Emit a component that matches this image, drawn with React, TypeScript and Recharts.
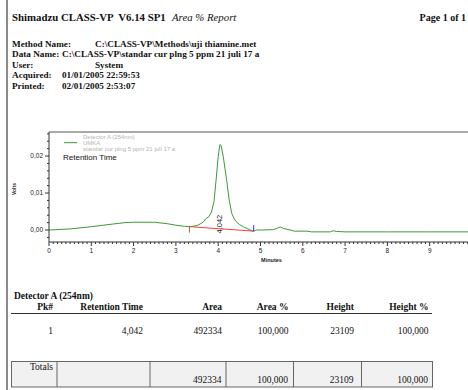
import { ComposedChart, Line, ReferenceLine, Scatter, XAxis, YAxis } from "recharts";

// chromatogram trace (minutes / volts)
const TIME = [
  0, 0.5, 1.0, 1.5, 1.8, 2.0, 2.5, 2.8, 3.0, 3.2,
  3.33, 3.5, 3.6, 3.65, 3.72, 3.78, 3.84, 3.9, 3.95, 4.0,
  4.04, 4.07, 4.12, 4.2, 4.26, 4.32, 4.38, 4.43, 4.5, 4.59,
  4.7, 4.79, 4.85, 4.9, 5.0, 5.3, 5.4, 5.47, 5.55, 5.7,
  5.8, 6.1, 6.2, 6.65, 6.72, 6.8, 7.0, 8.0, 9.0, 10.0,
];
const VOLTS = [
  0, 0.0003, 0.0009, 0.0016, 0.002, 0.0021, 0.0021, 0.0017, 0.0013, 0.001,
  0.0009, 0.0012, 0.0018, 0.0022, 0.0032, 0.0036, 0.0048, 0.0077, 0.0135, 0.0198,
  0.0231, 0.0228, 0.0198, 0.0135, 0.0081, 0.0045, 0.003, 0.0022, 0.0015, 0.0009,
  0.0003, -0.0002, -0.0003, 0, 0, 0.0001, 0.0005, 0.0008, 0.0004, 0,
  -0.0003, -0.0003, -0.0005, -0.0005, -0.0002, -0.0004, -0.0005, -0.0005, -0.0005, -0.0005,
];

// integration baseline + start/end markers
const BASE_TIME = [3.32, 4.84];
const BASE_VOLTS = [0.0009, -0.0003];
const START_MARK = [0.0009, -0.0007];
const END_MARK = [-0.0003, 0.0013];

const PEAK_RT = 4.042;
const PEAK_LABEL_Y = 0.0016;

const X_DOMAIN = [0, 10];
const Y_DOMAIN = [-0.00324, 0.0265];
const X_TICKS = Array.from({ length: 101 }, (_, i) => i / 10);
const Y_TICKS = Array.from({ length: 15 }, (_, i) => Math.round((i * 2 - 2) * 10) / 10000);

// table
const COLUMNS = ["Pk#", "Retention Time", "Area", "Area %", "Height", "Height %"];
const ROW = ["1", "4,042", "492334", "100,000", "23109", "100,000"];
const TOTALS = ["492334", "100,000", "23109", "100,000"];

const trace = TIME.map((t, i) => ({ t, v: VOLTS[i] }));
const baseline = BASE_TIME.map((t, i) => ({ t, v: BASE_VOLTS[i] }));
const startMark = START_MARK.map((v) => ({ t: BASE_TIME[0], v }));
const endMark = END_MARK.map((v) => ({ t: BASE_TIME[1], v }));

const SANS = "'Liberation Sans', Arial, sans-serif";
const SERIF = "'Liberation Serif', 'Times New Roman', serif";
const GREEN = "#3a9a3a";

const isMajor = (v: number, step: number) => Math.abs(v / step - Math.round(v / step)) < 1e-6;

function XTick({ x, y, payload }: any) {
  const major = isMajor(payload.value, 1);
  return (
    <g>
      <line x1={x} x2={x} y1={y} y2={y + (major ? 4 : 2)} stroke="#333" />
      {/* the 10 min label falls past the page edge in the report */}
      {major && payload.value < 10 && (
        <text x={x} y={y + 10.5} textAnchor="middle" fontSize={6.5} fontFamily={SANS} fill="#222">
          {payload.value}
        </text>
      )}
    </g>
  );
}

function YTick({ x, y, payload }: any) {
  const major = isMajor(payload.value, 0.01);
  return (
    <g>
      <line x1={x} x2={x - (major ? 4 : 2)} y1={y} y2={y} stroke="#333" />
      {major && (
        <text x={x - 6} y={y + 2.2} textAnchor="end" fontSize={6.5} fontFamily={SANS} fill="#222">
          {payload.value.toFixed(2).replace(".", ",")}
        </text>
      )}
    </g>
  );
}

function PeakLabel({ cx, cy }: any) {
  return (
    <text
      x={cx}
      y={cy}
      transform={`rotate(-90 ${cx} ${cy})`}
      textAnchor="middle"
      dominantBaseline="central"
      fontSize={7.5}
      fontFamily={SANS}
      fill="#222"
    >
      {PEAK_RT.toFixed(3).replace(".", ",")}
    </text>
  );
}

function Chromatogram() {
  return (
    <ComposedChart width={472} height={150} margin={{ top: 12, right: 0, bottom: 0, left: 0 }}>
      <XAxis
        dataKey="t"
        type="number"
        domain={X_DOMAIN}
        allowDataOverflow
        ticks={X_TICKS}
        interval={0}
        tick={<XTick />}
        tickSize={0}
        tickMargin={0}
        tickLine={false}
        axisLine={{ stroke: "#333" }}
        height={28}
      />
      <YAxis
        dataKey="v"
        type="number"
        domain={Y_DOMAIN}
        allowDataOverflow
        ticks={Y_TICKS}
        interval={0}
        tick={<YTick />}
        tickSize={0}
        tickMargin={0}
        tickLine={false}
        axisLine={{ stroke: "#333" }}
        width={49}
      />
      <ReferenceLine y={Y_DOMAIN[1]} stroke="#555" />
      <Line data={baseline} dataKey="v" stroke="#ff3b3b" strokeWidth={1} dot={false} isAnimationActive={false} />
      <Line data={trace} dataKey="v" stroke={GREEN} strokeWidth={1} dot={false} isAnimationActive={false} />
      <Line data={startMark} dataKey="v" stroke="#ff3b3b" strokeWidth={1} dot={false} isAnimationActive={false} />
      <Line data={endMark} dataKey="v" stroke="#2a2ae0" strokeWidth={1} dot={false} isAnimationActive={false} />
      <Scatter data={[{ t: PEAK_RT, v: PEAK_LABEL_Y }]} dataKey="v" shape={<PeakLabel />} isAnimationActive={false} />
    </ComposedChart>
  );
}

const rightEdges = [53, 143, 222, 288.5, 354, 428.5];
const dividers = [57, 150, 226, 293.5, 361.5];

export default function App() {
  return (
    <div style={{ position: "fixed", left: 0, top: 0, width: 468, height: 390, overflow: "hidden", background: "#fff" }}>
      <div style={{ position: "absolute", left: 0, top: 120 }}>
        <Chromatogram />
      </div>
      <svg width={468} height={390} style={{ position: "absolute", left: 0, top: 0, pointerEvents: "none" }}>
        <rect x={6} y={0} width={2} height={390} fill="#8a8a8a" />

        <g fontFamily={SERIF} fill="#111">
          <text x={12} y={20.5} fontSize={10.8} fontWeight="bold" style={{ whiteSpace: "pre" }}>
            Shimadzu CLASS-VP  V6.14 SP1
          </text>
          <text x={172} y={20.5} fontSize={10.8} fontStyle="italic">
            Area % Report
          </text>
          <text x={466} y={20.5} fontSize={10} fontWeight="bold" textAnchor="end">
            Page 1 of 1
          </text>

          <g fontSize={9.2} fontWeight="bold">
            <text x={12} y={46.5}>Method Name:</text>
            <text x={95} y={46.5}>C:\CLASS-VP\Methods\uji thiamine.met</text>
            <text x={12} y={57}>Data Name:</text>
            <text x={62} y={57}>C:\CLASS-VP\standar cur plng 5 ppm 21 juli 17 a</text>
            <text x={12} y={67.5}>User:</text>
            <text x={95} y={67.5}>System</text>
            <text x={12} y={78}>Acquired:</text>
            <text x={62} y={78}>01/01/2005 22:59:53</text>
            <text x={12} y={88.5}>Printed:</text>
            <text x={62} y={88.5}>02/01/2005 2:53:07</text>
          </g>
        </g>

        {/* legend and annotations inside the plot */}
        <g fontFamily={SANS}>
          <line x1={64} x2={77} y1={142.7} y2={142.7} stroke={GREEN} />
          <g fontSize={6} fill="#b4b4b4">
            <text x={83} y={139}>Detector A (254nm)</text>
            <text x={83} y={145}>UMKA</text>
            <text x={83} y={150.6}>standar cur plng 5 ppm 21 juli 17 a</text>
          </g>
          <text x={63} y={160} fontSize={8} fill="#111">Retention Time</text>
          <text x={15.5} y={189} fontSize={5} fontWeight="bold" fill="#222" textAnchor="middle" transform="rotate(-90 15.5 189)">
            Volts
          </text>
          <text x={271.5} y={262} fontSize={5.5} fontWeight="bold" fill="#222" textAnchor="middle">
            Minutes
          </text>
        </g>

        {/* results table */}
        <g fontFamily={SERIF} fill="#111" fontSize={9.5}>
          <text x={14} y={298.5} fontWeight="bold">Detector A (254nm)</text>
          {COLUMNS.map((c, i) => (
            <text key={c} x={rightEdges[i]} y={310} fontWeight="bold" textAnchor="end">
              {c}
            </text>
          ))}
          <line x1={11} x2={432} y1={313.5} y2={313.5} stroke="#333" />
          {ROW.map((v, i) => (
            <text key={i} x={rightEdges[i]} y={334} textAnchor="end">
              {v}
            </text>
          ))}
          <rect x={11.5} y={361.5} width={421} height={25.5} fill="#f1f1f1" stroke="#666" />
          {dividers.map((d) => (
            <line key={d} x1={d} x2={d} y1={361.5} y2={387} stroke="#666" />
          ))}
          <text x={53} y={370} textAnchor="end">Totals</text>
          {TOTALS.map((v, i) => (
            <text key={i} x={rightEdges[i + 2] - 0.5} y={383} textAnchor="end">
              {v}
            </text>
          ))}
        </g>
      </svg>
    </div>
  );
}
